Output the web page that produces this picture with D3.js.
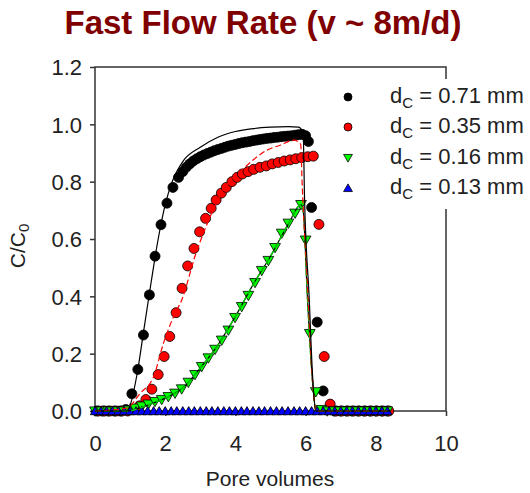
<!DOCTYPE html>
<html lang="en">

<head>
  <meta charset="UTF-8">
  <title>Fast Flow Rate</title>
  <script src="https://d3js.org/d3.v7.min.js"></script>
  <style>
    body {
      margin: 0;
      background: #fff;
    }

    text {
      font-family: Arial, "Liberation Sans", sans-serif;
    }

    .axis line {
      stroke: #333;
      stroke-width: 1.5px;
    }

    .axis text {
      font-size: 22px;
      fill: #222;
    }
  </style>
</head>

<body>
  <div id="chart"></div>

  <script>
    // measured breakthrough data (C/C0 vs pore volumes)
    const blackX = [0.05, 0.22, 0.38, 0.55, 0.72, 0.88, 1.05, 1.22, 1.38, 1.55, 1.71, 1.88, 2.05, 2.22, 2.38,
      2.50, 2.60, 2.70, 2.80, 2.90, 3.00, 3.10, 3.20, 3.30, 3.40, 3.50, 3.60, 3.70, 3.80, 3.90, 4.00, 4.10, 4.20,
      4.30, 4.40, 4.50, 4.60, 4.70, 4.80, 4.90, 5.00, 5.10, 5.20, 5.30, 5.40, 5.50, 5.60, 5.70, 5.80, 5.90, 6.00,
      6.08, 6.17, 6.33, 6.50, 6.67, 6.83, 7.00, 7.17, 7.33, 7.50, 7.67, 7.83, 8.00, 8.17, 8.33];
    const blackY = [0, 0, 0, 0, 0, 0.005, 0.06, 0.145, 0.265, 0.405, 0.54, 0.65, 0.725, 0.78, 0.815,
      0.835, 0.85, 0.862, 0.872, 0.88, 0.887, 0.893, 0.898, 0.903, 0.908, 0.912, 0.916, 0.92, 0.924, 0.927, 0.93, 0.933, 0.936,
      0.938, 0.94, 0.943, 0.945, 0.947, 0.949, 0.951, 0.952, 0.954, 0.955, 0.957, 0.958, 0.959, 0.96, 0.962, 0.964, 0.965, 0.96,
      0.94, 0.71, 0.31, 0.07, 0.01, 0, 0, 0, 0, 0, 0, 0, 0, 0, 0];

    const redX = [0.10, 0.27, 0.43, 0.60, 0.77, 0.93, 1.10, 1.27, 1.45, 1.62, 1.80, 1.97, 2.13, 2.31, 2.48, 2.64, 2.82, 2.98, 3.15, 3.31, 3.45, 3.60, 3.74, 3.90, 4.05, 4.20, 4.36, 4.52, 4.70, 4.88, 5.05, 5.22, 5.39, 5.56, 5.72, 5.89, 6.06, 6.22, 6.38, 6.53, 6.70, 6.87, 7.03, 7.20, 7.37, 7.53, 7.70, 7.87, 8.03, 8.20, 8.37];
    const redY = [0, 0, 0, 0, 0, 0, 0.005, 0.018, 0.04, 0.076, 0.127, 0.19, 0.26, 0.343, 0.428, 0.506, 0.567, 0.625, 0.672, 0.707, 0.736, 0.76, 0.78, 0.80, 0.815, 0.827, 0.835, 0.843, 0.85, 0.855, 0.862, 0.867, 0.872, 0.876, 0.88, 0.884, 0.887, 0.889, 0.651, 0.19, 0.024, 0, 0, 0, 0, 0, 0, 0, 0, 0, 0];

    const greenX = [0.00, 0.19, 0.38, 0.57, 0.76, 0.95, 1.14, 1.33, 1.52, 1.71, 1.90, 2.09, 2.28, 2.47, 2.66, 2.85, 3.04, 3.23, 3.42, 3.61, 3.80, 3.99, 4.18, 4.37, 4.56, 4.75, 4.94, 5.13, 5.32, 5.51, 5.70, 5.87, 6.00, 6.12, 6.29, 6.45, 6.62, 6.80, 6.97, 7.14, 7.31, 7.48, 7.65, 7.82, 7.99, 8.16, 8.33];
    const greenY = [0, 0, 0, 0, 0, 0.003, 0.01, 0.017, 0.024, 0.033, 0.04, 0.05, 0.062, 0.077, 0.10, 0.127, 0.155, 0.185, 0.215, 0.247, 0.282, 0.326, 0.364, 0.403, 0.448, 0.49, 0.525, 0.57, 0.62, 0.655, 0.69, 0.72, 0.596, 0.27, 0.067, 0.005, 0, 0, 0, 0, 0, 0, 0, 0, 0, 0, 0];

    const blueX = [0.00, 0.17, 0.33, 0.50, 0.67, 0.83, 1.00, 1.17, 1.33, 1.50, 1.67, 1.83, 2.00, 2.17, 2.33, 2.50, 2.67, 2.83, 3.00, 3.17, 3.33, 3.50, 3.67, 3.83, 4.00, 4.17, 4.33, 4.50, 4.67, 4.83, 5.00, 5.17, 5.33, 5.50, 5.67, 5.83, 6.00, 6.17, 6.33, 6.50, 6.67, 6.83, 7.00, 7.17, 7.33, 7.50, 7.67, 7.83, 8.00, 8.17, 8.33];
    const blueY = [0, 0, 0, 0, 0, 0, 0, 0, 0, 0, 0, 0, 0, 0, 0, 0, 0, 0, 0, 0, 0, 0, 0, 0, 0, 0, 0, 0, 0, 0, 0, 0, 0, 0, 0, 0, 0, 0, 0, 0, 0, 0, 0, 0, 0, 0, 0, 0, 0, 0, 0];

    // model curves
    const blackFitX = [0.00, 0.90, 1.00, 1.20, 1.40, 1.60, 1.80, 2.00, 2.20, 2.50, 3.00, 3.50, 4.00, 4.50, 5.00, 5.50, 5.80, 5.93, 5.97, 6.10, 6.20, 6.29, 8.40];
    const blackFitY = [0, 0, 0.02, 0.13, 0.29, 0.45, 0.60, 0.72, 0.80, 0.87, 0.92, 0.955, 0.975, 0.985, 0.99, 0.992, 0.99, 0.97, 0.74, 0.40, 0.12, 0, 0];

    const redFitX = [0.00, 0.90, 1.29, 1.67, 1.95, 2.24, 2.48, 2.86, 3.24, 3.60, 3.90, 4.24, 4.60, 4.90, 5.29, 5.67, 5.86, 5.90, 6.05, 6.20, 6.30, 8.40];
    const redFitY = [0, 0.01, 0.062, 0.12, 0.236, 0.33, 0.39, 0.544, 0.666, 0.76, 0.81, 0.847, 0.885, 0.91, 0.928, 0.945, 0.93, 0.80, 0.45, 0.10, 0, 0];

    const greenFitX = [0.00, 0.90, 1.50, 2.00, 2.50, 3.00, 3.50, 4.00, 4.50, 5.00, 5.50, 5.87, 5.93, 6.05, 6.20, 6.30, 8.40];
    const greenFitY = [0, 0, 0.02, 0.045, 0.08, 0.15, 0.23, 0.33, 0.44, 0.54, 0.65, 0.72, 0.70, 0.40, 0.10, 0, 0];

    const legendLabels = ["0.71", "0.35", "0.16", "0.13"];
    const xTicks = [0, 2, 4, 6, 8, 10];
    const yTicks = [0, 0.2, 0.4, 0.6, 0.8, 1.0, 1.2];

    const W = 530, H = 493;
    const svg = d3.select("#chart").append("svg")
      .attr("width", W)
      .attr("height", H);

    const x = d3.scaleLinear().domain([0, 10]).range([95, 446]);
    const y = d3.scaleLinear().domain([0, 1.2]).range([411, 67]);

    // title
    svg.append("text")
      .attr("x", 263)
      .attr("y", 34)
      .attr("text-anchor", "middle")
      .style("font-size", "33px")
      .style("font-weight", "bold")
      .style("fill", "#800000")
      .text("Fast Flow Rate (v ~ 8m/d)");

    // frame
    svg.append("rect")
      .attr("x", x(0))
      .attr("y", y(1.2))
      .attr("width", x(10) - x(0))
      .attr("height", y(0) - y(1.2))
      .attr("fill", "none")
      .attr("stroke", "#333")
      .attr("stroke-width", 1.5);

    svg.append("g")
      .attr("class", "axis xaxis")
      .attr("transform", `translate(0,${y(0)})`)
      .call(d3.axisBottom(x).tickValues(xTicks).tickSize(5).tickFormat(d3.format("d")));

    svg.append("g")
      .attr("class", "axis yaxis")
      .attr("transform", `translate(${x(0)},0)`)
      .call(d3.axisLeft(y).tickValues(yTicks).tickSize(5).tickPadding(8).tickFormat(d3.format(".1f")));

    svg.selectAll(".axis .domain").remove();
    svg.selectAll(".xaxis text").attr("dy", null).attr("y", 40);
    svg.selectAll(".yaxis text").attr("dy", "0.36em");

    // axis titles
    svg.append("text")
      .attr("x", 270)
      .attr("y", 486)
      .attr("text-anchor", "middle")
      .style("font-size", "21px")
      .style("fill", "#222")
      .text("Pore volumes");

    const yl = svg.append("text")
      .attr("transform", "translate(25,246) rotate(-90)")
      .attr("text-anchor", "middle")
      .style("font-size", "21px")
      .style("fill", "#222");
    yl.append("tspan").text("C/C");
    yl.append("tspan").attr("dy", 4).style("font-size", "15px").text("0");

    const plot = svg.append("g");

    const triUp = d3.symbol().type(d3.symbolTriangle);

    function circles(xs, ys, fill) {
      plot.append("g").selectAll("circle")
        .data(xs.map((v, i) => [v, ys[i]]))
        .enter().append("circle")
        .attr("cx", d => x(d[0]))
        .attr("cy", d => y(d[1]))
        .attr("r", 5)
        .attr("fill", fill)
        .attr("stroke", "#000")
        .attr("stroke-width", 0.8);
    }

    function triangles(xs, ys, fill, size, down) {
      plot.append("g").selectAll("path")
        .data(xs.map((v, i) => [v, ys[i]]))
        .enter().append("path")
        .attr("d", triUp.size(size)())
        .attr("transform", d => `translate(${x(d[0])},${y(d[1]) + (down ? -1 : 1)})` + (down ? " rotate(180)" : ""))
        .attr("fill", fill)
        .attr("stroke", "#000")
        .attr("stroke-width", 0.8);
    }

    circles(blackX, blackY, "#000");
    circles(redX, redY, "#ff0000");
    triangles(greenX, greenY, "#00ff00", 50, true);
    triangles(blueX, blueY, "#0000ff", 38, false);

    const line = d3.line()
      .x(d => x(d[0]))
      .y(d => y(d[1]))
      .curve(d3.curveMonotoneX);

    const pts = (xs, ys) => xs.map((v, i) => [v, ys[i]]);

    plot.append("path")
      .attr("d", line(pts(greenFitX, greenFitY)))
      .attr("fill", "none")
      .attr("stroke", "#000")
      .attr("stroke-width", 1.2);

    plot.append("path")
      .attr("d", line(pts(greenFitX, greenFitY)))
      .attr("fill", "none")
      .attr("stroke", "#00cc00")
      .attr("stroke-width", 1.4)
      .attr("stroke-dasharray", "6,3");

    plot.append("path")
      .attr("d", line(pts(redFitX, redFitY)))
      .attr("fill", "none")
      .attr("stroke", "#ff0000")
      .attr("stroke-width", 1.2)
      .attr("stroke-dasharray", "6,3");

    plot.append("path")
      .attr("d", line(pts(blackFitX, blackFitY)))
      .attr("fill", "none")
      .attr("stroke", "#000")
      .attr("stroke-width", 1.2);

    // legend (white box hides the upper right frame)
    const legend = svg.append("g");
    legend.append("rect")
      .attr("x", 330)
      .attr("y", 79)
      .attr("width", 200)
      .attr("height", 130)
      .attr("fill", "#fff");

    const legendY = [97, 127, 158, 188];
    const lx = 348;

    legend.append("circle").attr("cx", lx).attr("cy", legendY[0]).attr("r", 4)
      .attr("fill", "#000").attr("stroke", "#000").attr("stroke-width", 0.8);
    legend.append("circle").attr("cx", lx).attr("cy", legendY[1]).attr("r", 4)
      .attr("fill", "#ff0000").attr("stroke", "#000").attr("stroke-width", 0.8);
    legend.append("path").attr("d", triUp.size(34)())
      .attr("transform", `translate(${lx},${legendY[2] - 1}) rotate(180)`)
      .attr("fill", "#00ff00").attr("stroke", "#000").attr("stroke-width", 0.8);
    legend.append("path").attr("d", triUp.size(34)())
      .attr("transform", `translate(${lx},${legendY[3] + 1})`)
      .attr("fill", "#0000ff").attr("stroke", "#000").attr("stroke-width", 0.8);

    legendLabels.forEach((lab, i) => {
      const t = legend.append("text")
        .attr("x", 390)
        .attr("y", legendY[i] + 6)
        .style("font-size", "22px")
        .style("fill", "#222");
      t.append("tspan").text("d");
      t.append("tspan").attr("dy", 5).style("font-size", "15px").text("C");
      t.append("tspan").attr("dy", -5).text(` = ${lab} mm`);
    });
  </script>
</body>

</html>
